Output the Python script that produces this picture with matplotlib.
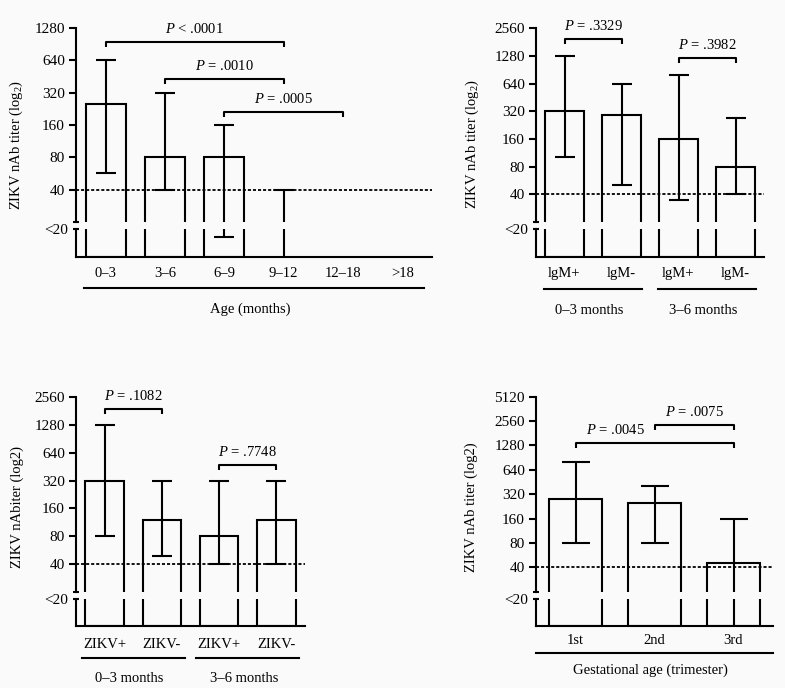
import numpy as np
import matplotlib
matplotlib.use('Agg')
import matplotlib.pyplot as plt
import matplotlib.transforms as mtransforms
from matplotlib.ticker import NullFormatter, NullLocator

plt.rcParams['font.family'] = 'Liberation Serif'
plt.rcParams['mathtext.fontset'] = 'custom'
plt.rcParams['mathtext.rm'] = 'Liberation Serif'
plt.rcParams['mathtext.it'] = 'Liberation Serif:italic'
plt.rcParams['font.size'] = 10.5

W, H = 785, 688

# --- data (geometric mean titers with ranges); 0 in *_lo = below detection
age_cats = ['0\u20133', '3\u20136', '6\u20139', '9\u201312', '12\u201318', '>18']
age_gmt = [250, 80, 80, None, None, None]
age_lo = [57, 40, 17, 0, None, None]
age_hi = [640, 320, 160, 40, None, None]
age_ticks = [40, 80, 160, 320, 640, 1280]
age_pvals = [(0, 3, 954, '$P$ < .0001', 1.5),
             (1, 3, 430, '$P$ = .0010', 2.0),
             (2, 4, 210, '$P$ = .0005', 3.0)]
age_groups = [(0, 5, 'Age (months)')]

igm_cats = ['lgM+', 'lgM-', 'lgM+', 'lgM-']
igm_gmt = [320, 290, 160, 80]
igm_lo = [101, 50, 35, 40]
igm_hi = [1280, 640, 800, 270]
igm_ticks = [40, 80, 160, 320, 640, 1280, 2560]
igm_pvals = [(0, 1, 1957, '$P$ = .3329', 0.5),
             (2, 3, 1224, '$P$ = .3982', 2.5)]
igm_groups = [(0, 1, '0\u20133 months'), (2, 3, '3\u20136 months')]

zikv_cats = ['ZIKV+', 'ZIKV-', 'ZIKV+', 'ZIKV-']
zikv_gmt = [320, 120, 80, 120]
zikv_lo = [80, 49, 40, 40]
zikv_hi = [1280, 320, 320, 320]
zikv_ticks = [40, 80, 160, 320, 640, 1280, 2560]
zikv_pvals = [(0, 1, 1907, '$P$ = .1082', 0.5),
              (2, 3, 475, '$P$ = .7748', 2.5)]
zikv_groups = [(0, 1, '0\u20133 months'), (2, 3, '3\u20136 months')]

tri_cats = ['1st', '2nd', '3rd']
tri_gmt = [280, 250, 45]
tri_lo = [80, 80, 0]
tri_hi = [790, 400, 160]
tri_ticks = [40, 80, 160, 320, 640, 1280, 2560, 5120]
tri_pvals = [(0, 2, 1365, '$P$ = .0045', 0.5),
             (1, 2, 2292, '$P$ = .0075', 1.5)]
tri_groups = [(0, 2, 'Gestational age (trimester)')]

fig = plt.figure(figsize=(W / 100, H / 100), dpi=100, facecolor='#fafafa')


def px_axes(l, r, t, b):
    return fig.add_axes([l / W, 1 - b / H, (r - l) / W, (b - t) / H], facecolor='none')


def panel(box, cats, gmt, lo, hi, ticks, pvals, groups, ylabel, ylab_xy,
          xpad, capsize, grp_y, grp_pad):
    l, r, t, brk, lt, b = box
    ymax = ticks[-1]
    up = px_axes(l, r, t, brk)
    dn = px_axes(l, r, lt, b)
    pxd = (brk - t) / np.log2(ymax / 20)
    floor = 20 / 2 ** ((b - lt) / pxd)
    x = np.arange(len(cats))
    for ax, ylim in ((up, (20, ymax)), (dn, (floor, 20))):
        ax.set_yscale('log', base=2)
        ax.set_xlim(-0.5, len(cats) - 0.5)
        ax.set_ylim(*ylim)
        for s in ('top', 'right', 'bottom'):
            ax.spines[s].set_visible(False)
        ax.spines['left'].set_linewidth(1.5)
        ax.yaxis.set_minor_formatter(NullFormatter())
        for i in x:
            if gmt[i] is not None:
                ax.bar(i, gmt[i] - floor, bottom=floor, width=0.67,
                       facecolor='none', edgecolor='black', lw=1.5)
            if hi[i] is not None:
                yc = gmt[i] if gmt[i] is not None else hi[i]
                lv = lo[i] if lo[i] else floor * 0.5
                ax.errorbar(i, yc, yerr=[[yc - lv], [hi[i] - yc]], fmt='none',
                            ecolor='black', elinewidth=1.5, capsize=capsize,
                            capthick=1.5)
    up.axhline(40, color='black', lw=1.3, ls=(0, (1.7, 1.1)))

    # upper axis ticks + break mark
    up.set_yticks(ticks, [str(v) for v in ticks])
    up.set_yticks([20], minor=True)
    up.tick_params(axis='y', which='major', length=5, width=1.5, pad=3,
                   labelsize=11)
    up.tick_params(axis='y', which='minor', length=5, width=1.5, direction='inout')
    up.set_xticks([])

    # lower stub
    dn.set_yticks([20], ['<20'])
    dn.yaxis.set_minor_locator(NullLocator())
    dn.tick_params(axis='y', length=5, width=1.5, direction='inout', pad=3,
                   labelsize=11)
    dn.spines['bottom'].set_visible(True)
    dn.spines['bottom'].set_linewidth(1.5)
    dn.set_xticks(x, cats)
    dn.tick_params(axis='x', length=0, pad=xpad)

    # significance brackets
    for i, j, level, label, tx in pvals:
        leg = level / 2 ** (5 / pxd)
        up.plot([i, i, j, j], [leg, level, level, leg], color='black', lw=1.5,
                clip_on=False, solid_capstyle='butt')
        trans = mtransforms.offset_copy(up.transData, fig=fig, y=13, units='dots')
        up.text(tx, level, label, transform=trans, ha='center', va='center')

    # grouping lines under the category labels
    blend = mtransforms.blended_transform_factory(dn.transData, fig.transFigure)
    lab_tr = mtransforms.offset_copy(blend, fig=fig, x=-4, units='dots')
    ly, ty = grp_y
    for i0, i1, label in groups:
        dn.plot([i0 - grp_pad, i1 + grp_pad], [1 - ly / H] * 2, color='black',
                lw=1.5, transform=blend, clip_on=False)
        dn.text((i0 + i1) / 2, 1 - ty / H, label, transform=lab_tr,
                ha='center', va='center')

    fig.text(ylab_xy[0] / W, 1 - ylab_xy[1] / H, ylabel, rotation=90,
             ha='center', va='center')


panel((76, 432, 28, 222, 229, 257), age_cats, age_gmt, age_lo, age_hi,
      age_ticks, age_pvals, age_groups, r'ZIKV nAb titer (log$_\mathrm{2}$)',
      (16, 145), 7, 7, (288, 309), 0.36)
panel((536, 764, 28.3, 222, 229, 257), igm_cats, igm_gmt, igm_lo, igm_hi,
      igm_ticks, igm_pvals, igm_groups, r'ZIKV nAb titer (log$_\mathrm{2}$)',
      (472, 144), 7, 7, (288.7, 310.7), 0.36)
panel((76, 305, 397.3, 591.7, 598.5, 626), zikv_cats, zikv_gmt, zikv_lo,
      zikv_hi, zikv_ticks, zikv_pvals, zikv_groups, 'ZIKV nAbiter (log2)',
      (17, 507), 8.5, 7, (658.3, 679), 0.4)
panel((536, 773, 396.7, 591.7, 598.5, 626), tri_cats, tri_gmt, tri_lo,
      tri_hi, tri_ticks, tri_pvals, tri_groups, 'ZIKV nAb titer (log2)',
      (471, 507), 5.5, 10, (653.3, 670.7), 0.5)

fig.savefig('out.png', dpi=100, facecolor=fig.get_facecolor())
